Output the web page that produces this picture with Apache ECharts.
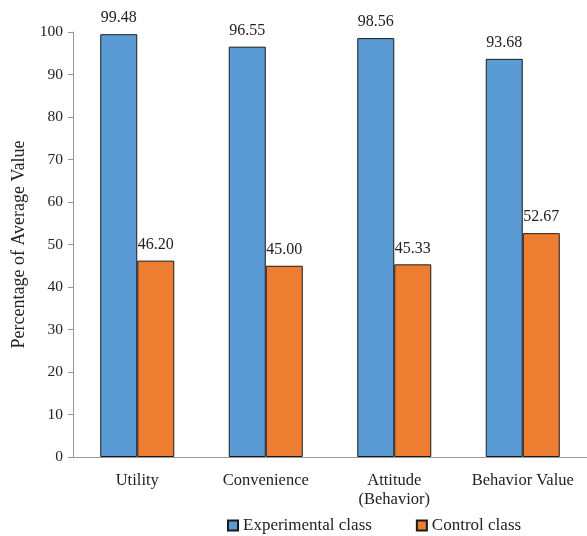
<!DOCTYPE html>
<html>
<head>
<meta charset="utf-8">
<script src="https://cdn.jsdelivr.net/npm/echarts@6/dist/echarts.min.js"></script>
<style>
  html, body { margin: 0; padding: 0; background: #fff; }
  #chart { width: 587px; height: 536px; }
</style>
</head>
<body>
<div id="chart"></div>
<script>
var categories = ['Utility', 'Convenience', 'Attitude\n(Behavior)', 'Behavior Value'];
var experimental = [99.48, 96.55, 98.56, 93.68];
var control = [46.20, 45.00, 45.33, 52.67];
var yTicks = [0, 10, 20, 30, 40, 50, 60, 70, 80, 90, 100];

var font = 'Liberation Serif';
var myChart = echarts.init(document.getElementById('chart'));

function valueLabel() {
    return {
        show: true, position: 'top', distance: 8,
        formatter: function (p) { return p.value.toFixed(2); },
        color: '#222', fontSize: 16, fontFamily: font
    };
}

var option = {
    animation: false,
    textStyle: { fontFamily: font },
    grid: {
        left: 73,
        right: -9,
        top: 32,
        bottom: 79
    },
    legend: {
        bottom: -3,
        left: 222,
        itemWidth: 10,
        itemHeight: 10,
        itemGap: 44,
        icon: 'rect',
        textStyle: { fontFamily: font, fontSize: 17, color: '#222' },
        data: ['Experimental class', 'Control class']
    },
    xAxis: {
        type: 'category',
        data: categories,
        axisLine: { lineStyle: { color: '#999' } },
        axisTick: { show: false },
        axisLabel: { interval: 0, color: '#222', fontSize: 16.5, fontFamily: font, margin: 14, lineHeight: 19 }
    },
    yAxis: {
        type: 'value',
        min: yTicks[0],
        max: yTicks[yTicks.length - 1],
        interval: 10,
        name: 'Percentage of Average Value',
        nameLocation: 'middle',
        nameGap: 45,
        nameTextStyle: { color: '#222', fontSize: 18, fontFamily: font },
        axisLine: { show: true, lineStyle: { color: '#999' } },
        axisTick: { show: true, length: 5, lineStyle: { color: '#999' } },
        axisLabel: { color: '#222', fontSize: 15.5, fontFamily: font, margin: 10 },
        splitLine: { show: false }
    },
    series: [
        {
            name: 'Experimental class',
            type: 'bar',
            data: experimental,
            barWidth: 37,
            barGap: '0%',
            itemStyle: { color: '#5B9BD5', borderColor: '#1a1a1a', borderWidth: 1 },
            label: valueLabel()
        },
        {
            name: 'Control class',
            type: 'bar',
            data: control,
            barWidth: 37,
            itemStyle: { color: '#ED7D31', borderColor: '#1a1a1a', borderWidth: 1 },
            label: valueLabel()
        }
    ]
};
myChart.setOption(option);
window.addEventListener('resize', function () { myChart.resize(); });
</script>
</body>
</html>
